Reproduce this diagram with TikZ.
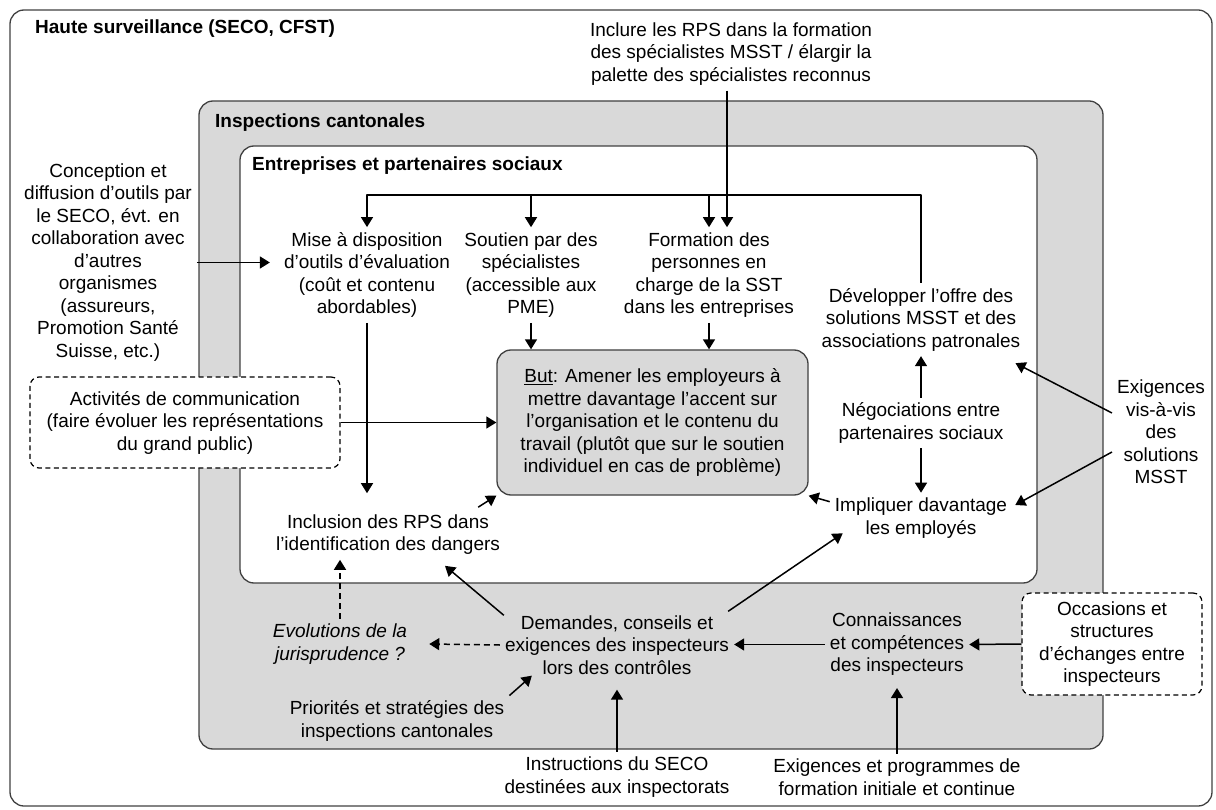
\documentclass[tikz,border=0pt]{standalone}
\usepackage{fontspec}
\setmainfont{Liberation Sans}
\usetikzlibrary{arrows.meta,calc}
\definecolor{gris}{HTML}{D9D9D9}
\definecolor{trait}{HTML}{404040}

\begin{document}
\begin{tikzpicture}[x=1pt,y=-1pt,line join=round,
  txt/.style={align=center,inner sep=5pt,font=\fontsize{19}{22.5}\selectfont},
  ital/.style={txt,font=\fontsize{19}{22.5}\selectfont\itshape},
  titre/.style={anchor=west,inner sep=0pt,font=\fontsize{19}{22.5}\selectfont\bfseries},
  arr/.style={line width=1.5pt,-{Triangle[length=10pt,width=12pt]}},
  pointille/.style={dash pattern=on 6pt off 4pt},
  cadre/.style={draw=trait,line width=1.3pt,rounded corners=14pt},
  tiret/.style={draw=black,line width=1.2pt,dash pattern=on 5pt off 3.5pt,rounded corners=9pt,fill=white}]
  \useasboundingbox (0,0) rectangle (1216,810);
  \draw[cadre] (10,10) rectangle (1212,806);
  \draw[cadre,fill=gris] (199,101) rectangle (1103,749);
  \draw[cadre,fill=white] (240,146) rectangle (1037,583);
  \node[titre] (hs) at (35,29) {Haute surveillance (SECO, CFST)};
  \node[titre] (ic) at (215,123) {Inspections cantonales};
  \node[titre] (ep) at (252,166) {Entreprises et partenaires sociaux};

  \node[txt] (inclure) at (731,54) {Inclure les RPS dans la formation\\des spécialistes MSST / élargir la\\palette des spécialistes reconnus};
  \node[txt] (concep) at (108,262.5) {Conception et\\diffusion d’outils par\\le SECO, évt. en\\collaboration avec\\d’autres\\organismes\\(assureurs,\\Promotion Santé\\Suisse, etc.)};
  \node[txt] (mise) at (367,275) {Mise à disposition\\d’outils d’évaluation\\(coût et contenu\\abordables)};
  \node[txt] (soutien) at (531,275) {Soutien par des\\spécialistes\\(accessible aux\\PME)};
  \node[txt] (formation) at (709,275) {Formation des\\personnes en\\charge de la SST\\dans les entreprises};
  \node[txt] (dev) at (921,319.5) {Développer l’offre des\\solutions MSST et des\\associations patronales};
  \node[txt,draw=trait,line width=1.3pt,fill=gris,rounded corners=14pt,minimum width=311pt,minimum height=145pt] (but) at (652.5,422.5) {\underline{But}: Amener les employeurs à\\mettre davantage l’accent sur\\l’organisation et le contenu du\\travail (plutôt que sur le soutien\\individuel en cas de problème)};
  \node[txt,tiret,minimum width=310pt,minimum height=91pt] (activ) at (185,422.5) {Activités de communication\\(faire évoluer les représentations\\du grand public)};
  \node[txt] (nego) at (921,423) {Négociations entre\\partenaires sociaux};
  \node[txt] (impl) at (921,518) {Impliquer davantage\\les employés};
  \node[txt] (exmsst) at (1161,432) {Exigences\\vis-à-vis\\des\\solutions\\MSST};
  \node[txt] (incl) at (388,534.5) {Inclusion des RPS dans\\l’identification des dangers};
  \node[ital] (evol) at (340,644) {Evolutions de la\\jurisprudence ?};
  \node[txt] (dem) at (617,645) {Demandes, conseils et\\exigences des inspecteurs\\lors des contrôles};
  \node[txt] (conn) at (897,644.5) {Connaissances\\et compétences\\des inspecteurs};
  \node[txt,tiret,minimum width=180pt,minimum height=102pt] (occ) at (1112,644) {Occasions et\\structures\\d’échanges entre\\inspecteurs};
  \node[txt] (prio) at (397,721) {Priorités et stratégies des\\inspections cantonales};
  \node[txt] (instr) at (617,777) {Instructions du SECO\\destinées aux inspectorats};
  \node[txt] (exform) at (897,777) {Exigences et programmes de\\formation initiale et continue};

  \coordinate (fb) at (0,195);
  \coordinate (fdrop) at ($(formation.north)+(18,0)$);
  \draw[arr] (dev.north) |- (fb -| mise.north) -- (mise.north);
  \draw[arr] (fb -| soutien.north) -- (soutien.north);
  \draw[arr] (fb -| formation.north) -- (formation.north);
  \draw[arr] (inclure.south -| fdrop) -- (fdrop);
  \draw[arr] (concep.east) -- ($(concep.east -| mise.west)+(-9,0)$);
  \draw[arr] (soutien.south) -- (soutien.south |- but.north);
  \draw[arr] (formation.south) -- (formation.south |- but.north);
  \draw[arr] (activ.east) -- (activ.east -| but.west);
  \draw[arr] (mise.south) -- ($(mise.south |- incl.north)+(0,-16)$);
  \draw[arr] ($(incl.north east)+(-27,-2)$) -- (but.south west);
  \draw[arr] (nego) -- (dev);
  \draw[arr] (nego) -- (impl);
  \draw[arr] ($(impl.north west)+(0,9)$) -- (but.south east);
  \draw[arr] ($(exmsst.west)+(0,-19)$) -- ($(dev.south east)+(-10,7)$);
  \draw[arr] ($(exmsst.west)+(0,20)$) -- ($(impl.east)+(3,-13)$);
  \draw[arr,pointille] (evol.north) -- (evol.north |- incl.south);
  \draw[arr,pointille] (dem.west) -- ($(evol.east)+(17,0)$);
  \draw[arr] ($(dem.north west)+(4,5)$) -- ($(incl.south)+(57,6)$);
  \draw[arr] ($(dem.north east)+(-6,1)$) -- ($(impl.south west)+(13,-10)$);
  \draw[arr] (prio.north east) -- ($(dem.south west)+(32,-4)$);
  \draw[arr] (instr.north) -- ($(instr.north |- dem.south)+(0,10)$);
  \draw[arr] (conn.west) -- (conn.west -| dem.east);
  \draw[arr] (occ.west) -- (conn.east);
  \draw[arr] (exform.north) -- ($(exform.north |- conn.south)+(0,7)$);
\end{tikzpicture}
\end{document}
